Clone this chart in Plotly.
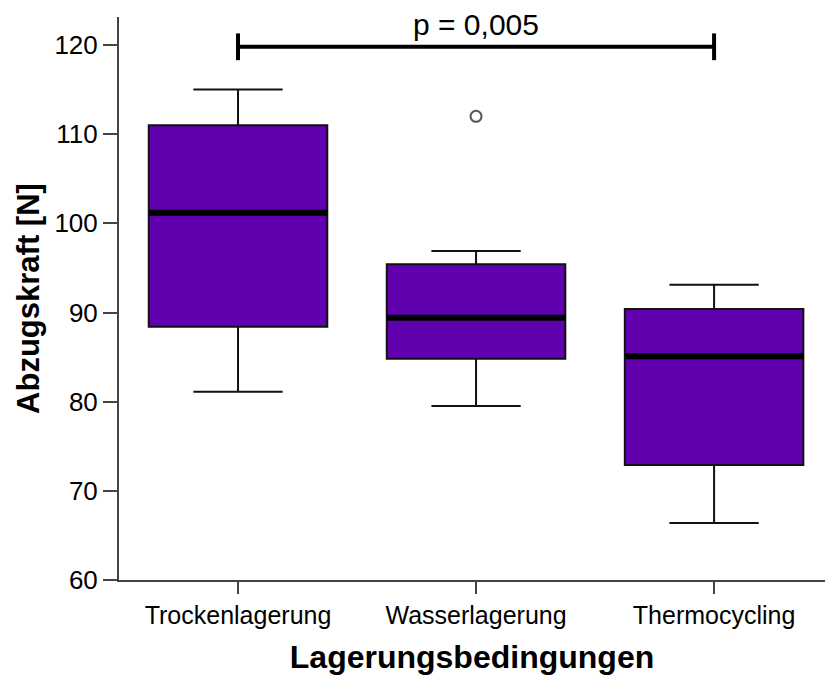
import plotly.graph_objects as go

categories = ["Trockenlagerung", "Wasserlagerung", "Thermocycling"]
lower_whisker = [81.1, 79.5, 66.4]
q1_values = [88.4, 84.8, 72.9]
median_values = [101.2, 89.4, 85.1]
q3_values = [111.0, 95.4, 90.4]
upper_whisker = [115.0, 96.9, 93.1]
outlier_group = [1]
outlier_values = [112.0]
sig_groups = [0, 2]
sig_level = 119.8
sig_cap = 1.5
sig_label = "p = 0,005"
y_ticks = [60, 70, 80, 90, 100, 110, 120]

FILL = "#6100AE"
FONT = "Arial, 'Liberation Sans', sans-serif"
BOX_W = 0.75

fig = go.Figure()
for i, cat in enumerate(categories):
    fig.add_trace(go.Box(
        x=[i], q1=[q1_values[i]], median=[median_values[i]], q3=[q3_values[i]],
        lowerfence=[lower_whisker[i]], upperfence=[upper_whisker[i]],
        width=BOX_W, whiskerwidth=0.5, fillcolor=FILL,
        line=dict(color="#111111", width=2), boxpoints=False,
        name=cat, showlegend=False, hoverinfo="skip",
    ))
    # thick median line
    fig.add_trace(go.Scatter(
        x=[i - BOX_W / 2, i + BOX_W / 2], y=[median_values[i]] * 2,
        mode="lines", line=dict(color="black", width=6),
        showlegend=False, hoverinfo="skip",
    ))

fig.add_trace(go.Scatter(
    x=outlier_group, y=outlier_values, mode="markers",
    marker=dict(symbol="circle-open", size=11, color="#555555", line=dict(width=2)),
    showlegend=False, hoverinfo="skip",
))

# significance bracket
fig.add_trace(go.Scatter(
    x=sig_groups, y=[sig_level] * 2, mode="lines",
    line=dict(color="black", width=4), showlegend=False, hoverinfo="skip",
))
for g in sig_groups:
    fig.add_trace(go.Scatter(
        x=[g, g], y=[sig_level - sig_cap, sig_level + sig_cap], mode="lines",
        line=dict(color="black", width=4), showlegend=False, hoverinfo="skip",
    ))
fig.add_annotation(
    x=sum(sig_groups) / 2, y=sig_level, yshift=4, text=sig_label,
    showarrow=False, yanchor="bottom", xanchor="center",
    font=dict(size=30, color="black", family=FONT),
)

fig.update_layout(
    width=825, height=675,
    margin=dict(l=119, r=0, t=17, b=95),
    paper_bgcolor="white", plot_bgcolor="white",
    font=dict(family=FONT, color="black"),
)
fig.update_xaxes(
    range=[-0.5, 2.466], tickmode="array", tickvals=list(range(len(categories))),
    ticktext=categories, ticks="outside", ticklen=12, tickwidth=2, tickcolor="#444444",
    showline=True, linecolor="#444444", linewidth=2, showgrid=False, zeroline=False,
    tickfont=dict(size=25, color="black"),
    title=dict(text="<b>Lagerungsbedingungen</b>", font=dict(size=32, color="black"), standoff=19),
)
fig.update_yaxes(
    range=[60, 123.14], tickmode="array", tickvals=y_ticks,
    ticks="outside", ticklen=14, tickwidth=2, tickcolor="#444444",
    showline=True, linecolor="#444444", linewidth=2, showgrid=False, zeroline=False,
    tickfont=dict(size=26, color="black"),
    title=dict(text="<b>Abzugskraft [N]</b>", font=dict(size=31, color="black"), standoff=6),
)

fig.write_html("out.html")
